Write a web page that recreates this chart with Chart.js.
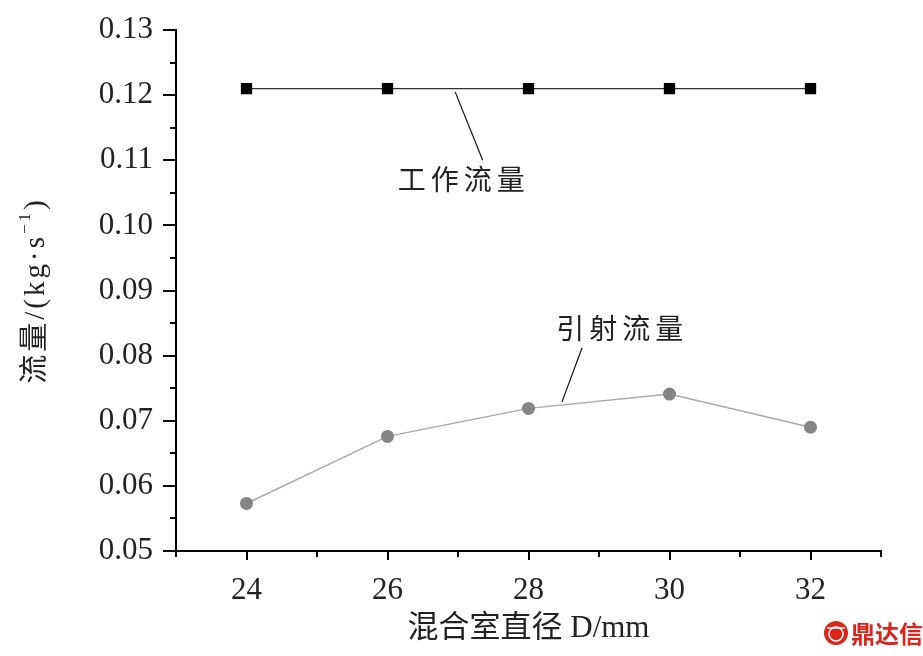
<!DOCTYPE html>
<html>
<head>
<meta charset="utf-8">
<script src="https://cdn.jsdelivr.net/npm/chart.js@4.4.1/dist/chart.umd.min.js"></script>
<style>
  html, body { margin: 0; padding: 0; background: #fff; }
  #wrap { width: 923px; height: 656px; }
</style>
</head>
<body>
<div id="wrap"><canvas id="flowChart" width="923" height="656"></canvas></div>
<script>
// data
const diameters = [24, 26, 28, 30, 32];          // mixing chamber diameter D/mm
const workFlow = [0.121, 0.121, 0.121, 0.121, 0.121];      // 工作流量
const inducedFlow = [0.0573, 0.0676, 0.0719, 0.0741, 0.0690]; // 引射流量
const xMin = 23, xMax = 33;
const yMin = 0.05, yMax = 0.13;

const SERIF = "'Liberation Serif', 'Noto Sans CJK SC', serif";
const CJK = "'Noto Sans CJK SC', 'Liberation Serif', sans-serif";

// outward ticks (major + minor), y title, callout labels
const extras = {
  id: 'extras',
  afterDraw(chart) {
    const ctx = chart.ctx;
    const xs = chart.scales.x, ys = chart.scales.y;
    const area = chart.chartArea;
    ctx.save();
    ctx.strokeStyle = '#000';
    ctx.lineWidth = 2;
    // y ticks every 0.005
    for (let i = 0; i <= 16; i++) {
      const py = Math.round(ys.getPixelForValue(yMin + i * 0.005));
      const len = i % 2 === 0 ? 13 : 6;
      ctx.beginPath();
      ctx.moveTo(area.left, py);
      ctx.lineTo(area.left - len, py);
      ctx.stroke();
    }
    // x ticks every 1
    for (let v = xMin; v <= xMax; v++) {
      const px = Math.round(xs.getPixelForValue(v));
      const len = diameters.includes(v) ? 9 : 6;
      ctx.beginPath();
      ctx.moveTo(px, area.bottom);
      ctx.lineTo(px, area.bottom + len);
      ctx.stroke();
    }

    // y axis title, rotated, with a real superscript
    ctx.save();
    ctx.translate(36, (area.top + area.bottom) / 2);
    ctx.rotate(-Math.PI / 2);
    ctx.fillStyle = '#222';
    ctx.textBaseline = 'middle';
    ctx.textAlign = 'left';
    ctx.letterSpacing = '3px';
    const big = '29px ' + SERIF, small = '17px ' + SERIF;
    const parts = [['流量/(kg·s', big, 0], ['−1', small, -10], [')', big, 0]];
    let total = 0;
    parts.forEach(p => { ctx.font = p[1]; total += ctx.measureText(p[0]).width; });
    let cx = -total / 2;
    parts.forEach(p => {
      ctx.font = p[1];
      ctx.fillText(p[0], cx, p[2]);
      cx += ctx.measureText(p[0]).width;
    });
    ctx.restore();

    // callouts
    ctx.lineWidth = 1.2;
    ctx.strokeStyle = '#111';
    const lead = (x1, y1, x2, y2) => {
      ctx.beginPath();
      ctx.moveTo(xs.getPixelForValue(x1), ys.getPixelForValue(y1));
      ctx.lineTo(xs.getPixelForValue(x2), ys.getPixelForValue(y2));
      ctx.stroke();
    };
    lead(26.96, 0.1205, 27.35, 0.110);
    lead(28.76, 0.0812, 28.475, 0.0729);
    ctx.fillStyle = '#222';
    ctx.font = '28px ' + CJK;
    ctx.textAlign = 'center';
    ctx.textBaseline = 'middle';
    ctx.letterSpacing = '5px';
    ctx.fillText('工作流量', xs.getPixelForValue(27.08), ys.getPixelForValue(0.1070));
    ctx.fillText('引射流量', xs.getPixelForValue(29.33), ys.getPixelForValue(0.0842));
    ctx.letterSpacing = '0px';

    // watermark
    ctx.fillStyle = '#d9261c';
    ctx.beginPath();
    ctx.arc(836, 633, 12, 0, Math.PI * 2);
    ctx.fill();
    ctx.strokeStyle = '#fff';
    ctx.lineWidth = 1.5;
    ctx.beginPath();
    ctx.arc(836, 634, 7, 0, Math.PI * 2);
    ctx.stroke();
    ctx.beginPath();
    ctx.moveTo(827, 628); ctx.lineTo(845, 628);
    ctx.stroke();
    ctx.fillStyle = '#d9261c';
    ctx.font = 'bold 24px ' + CJK;
    ctx.textAlign = 'left';
    ctx.fillText('鼎达信', 851, 634);
    ctx.restore();
  }
};

const zeroPad = s => { s.paddingTop = 0; s.paddingBottom = 0; s.paddingLeft = 0; s.paddingRight = 0; };

new Chart(document.getElementById('flowChart').getContext('2d'), {
  type: 'line',
  data: {
    datasets: [
      {
        label: '工作流量',
        data: diameters.map((d, i) => ({ x: d, y: workFlow[i] })),
        borderColor: '#333',
        borderWidth: 1.2,
        pointStyle: 'rect',
        pointRadius: 8,
        pointBackgroundColor: '#000',
        pointBorderWidth: 0,
        tension: 0
      },
      {
        label: '引射流量',
        data: diameters.map((d, i) => ({ x: d, y: inducedFlow[i] })),
        borderColor: '#aaa',
        borderWidth: 1.5,
        pointStyle: 'circle',
        pointRadius: 6.5,
        pointBackgroundColor: '#858585',
        pointBorderColor: '#858585',
        pointBorderWidth: 0,
        tension: 0
      }
    ]
  },
  options: {
    responsive: false,
    animation: false,
    devicePixelRatio: 1,
    layout: { padding: { top: 30, right: 42, left: 0, bottom: 0 } },
    plugins: { legend: { display: false }, tooltip: { enabled: false } },
    scales: {
      x: {
        type: 'linear',
        min: xMin, max: xMax,
        afterFit: s => { s.height = 105; zeroPad(s); },
        grid: { display: false, drawTicks: false },
        border: { display: true, color: '#000', width: 2 },
        ticks: {
          stepSize: 1, autoSkip: false, maxRotation: 0, padding: 21,
          color: '#222', font: { family: SERIF, size: 31 },
          callback: v => diameters.includes(v) ? String(v) : ''
        },
        title: {
          display: true, text: '混合室直径 D/mm', color: '#222',
          font: { family: SERIF, size: 31 }, padding: { top: 0, bottom: 9 }
        }
      },
      y: {
        type: 'linear',
        min: yMin, max: yMax,
        afterFit: s => { s.width = 176; zeroPad(s); },
        grid: { display: false, drawTicks: false },
        border: { display: true, color: '#000', width: 2 },
        ticks: {
          stepSize: 0.01, autoSkip: false, padding: 23,
          color: '#222', font: { family: SERIF, size: 31 },
          callback: v => v.toFixed(2)
        },
        title: { display: false }
      }
    }
  },
  plugins: [extras]
});
</script>
</body>
</html>
